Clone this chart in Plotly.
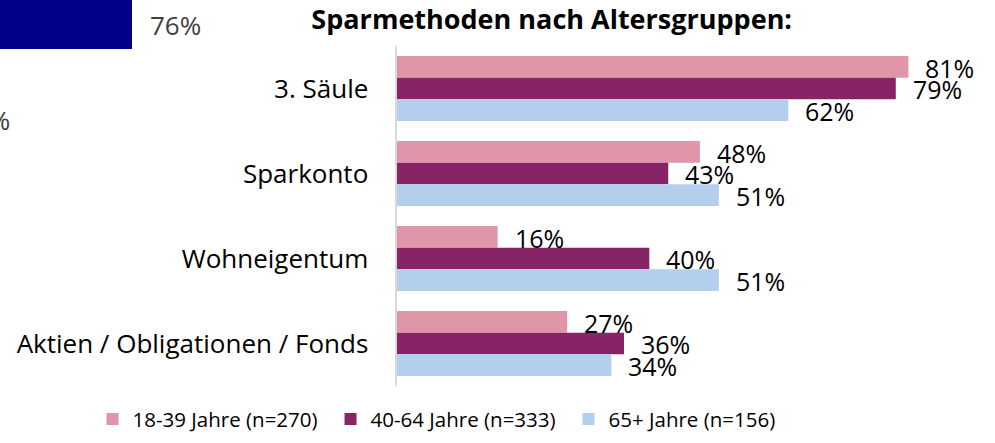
import plotly.graph_objects as go

# Main chart data
categories = ["3. Säule", "Sparkonto", "Wohneigentum", "Aktien / Obligationen / Fonds"]
series_names = ["18-39 Jahre (n=270)", "40-64 Jahre (n=333)", "65+ Jahre (n=156)"]
values_18_39 = [81, 48, 16, 27]
values_40_64 = [79, 43, 40, 36]
values_65 = [62, 51, 51, 34]
series_colors = ["#E095A9", "#862465", "#B4CFEE"]
title_text = "Sparmethoden nach Altersgruppen:"

# Fragment of an adjacent chart (cut off at the left edge)
left_cats = ["Kat. 1", "Kat. 2"]
left_values = [76, 32]

FONT = "Open Sans"

fig = go.Figure()
all_vals = [values_18_39, values_40_64, values_65]
for name, vals, col in zip(series_names, all_vals, series_colors):
    fig.add_trace(go.Bar(
        y=categories, x=vals, name=name, orientation="h",
        marker=dict(color=col, line=dict(width=0)),
        xaxis="x", yaxis="y", hoverinfo="skip",
    ))

# data labels
shifts = [20.5, -1, -22.5]
for vals, ys in zip(all_vals, shifts):
    for c, v in zip(categories, vals):
        fig.add_annotation(
            x=v, y=c, xref="x", yref="y", text=f"{v}%", showarrow=False,
            xanchor="left", yanchor="middle", xshift=15, yshift=ys,
            font=dict(family=FONT, size=25, color="#000000"),
        )

# left fragment chart (adjacent chart cut off at the page edge)
fig.add_trace(go.Bar(
    y=left_cats, x=left_values, orientation="h", showlegend=False,
    marker=dict(color="#00008B", line=dict(width=0)), width=0.513,
    xaxis="x2", yaxis="y2", hoverinfo="skip", cliponaxis=False,
))
# label of the visible bar
fig.add_annotation(
    x=left_values[0], y=left_cats[0], xref="x2", yref="y2",
    text=f"{left_values[0]}%", showarrow=False, xanchor="left", yanchor="middle",
    xshift=16, yshift=-1, font=dict(family=FONT, size=26, color="#404040"),
)
# label of the bar hidden beyond the left page edge (only its end is visible)
fig.add_annotation(
    x=0, y=left_cats[1], xref="paper", yref="y2",
    text=f"{left_values[1]}%", showarrow=False, xanchor="right", yanchor="middle",
    xshift=12, font=dict(family=FONT, size=26, color="#404040"),
)

fig.update_layout(
    width=995, height=443,
    margin=dict(l=0, r=0, t=0, b=0),
    paper_bgcolor="white", plot_bgcolor="rgba(0,0,0,0)",
    barmode="group", bargap=0.235, bargroupgap=0,
    font=dict(family=FONT, color="#000000"),
    title=dict(text=f"<b>{title_text}</b>", x=0.5545, xanchor="center",
               y=0.955, yanchor="middle",
               font=dict(family=FONT, size=27, color="#000000")),
    xaxis=dict(domain=[0.3985, 1], range=[0, 94.7], visible=False, fixedrange=True),
    yaxis=dict(domain=[0.1287, 0.8962], range=[3.5, -0.5], type="category",
               categoryarray=categories, categoryorder="array",
               showline=True, linecolor="#D9D9D9", linewidth=2,
               showgrid=False, zeroline=False, ticks="", ticklabelstandoff=21,
               tickfont=dict(family=FONT, size=26, color="#000000")),
    xaxis2=dict(domain=[0, 0.25], range=[43, 105.2], visible=False, anchor="y2"),
    yaxis2=dict(domain=[0.5, 1], range=[2.063, -0.2565], type="category",
                categoryarray=left_cats, categoryorder="array",
                visible=False, anchor="x2"),
    legend=dict(orientation="h", x=0.093, xanchor="left", y=0.054, yanchor="middle",
                font=dict(family=FONT, size=20.5, color="#000000"),
                itemwidth=30, traceorder="normal",
                entrywidth=193, entrywidthmode="pixels"),
)

fig.write_html("out.html", config={"displayModeBar": False},
               post_script="document.body.style.margin='0';")
